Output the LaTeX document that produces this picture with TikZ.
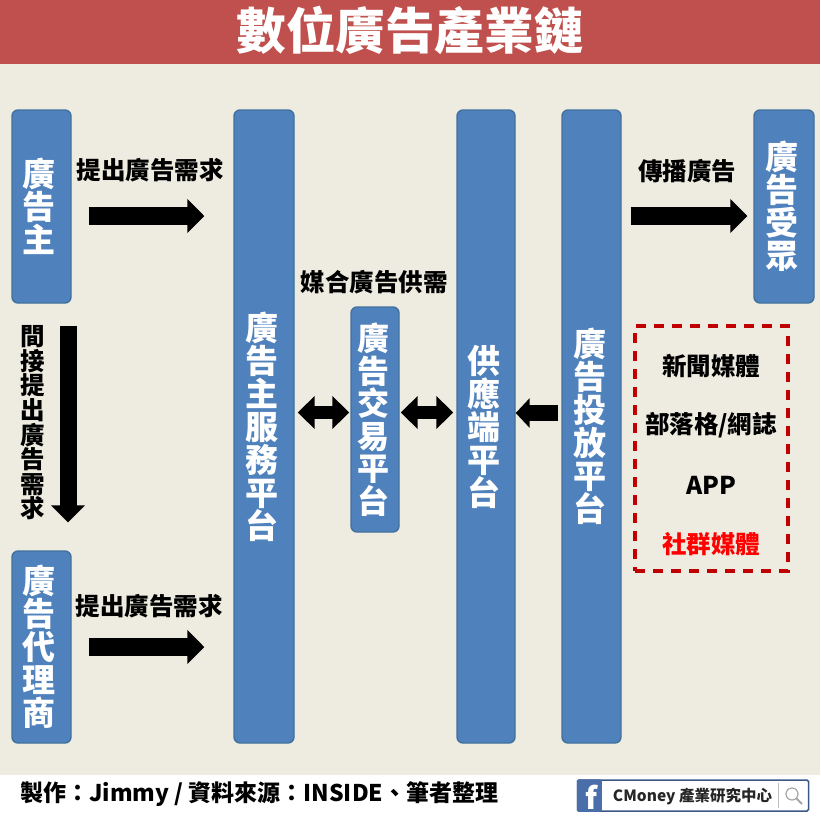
\documentclass[tikz,border=0pt]{standalone}
\usepackage{fontspec}
\setmainfont{Noto Sans CJK TC}
\usetikzlibrary{arrows.meta}

\definecolor{blockblue}{HTML}{4F81BD}
\definecolor{blockedge}{HTML}{41719C}
\definecolor{paper}{HTML}{EEECE1}
\definecolor{banner}{HTML}{C0504D}
\definecolor{dashred}{HTML}{C00000}
\definecolor{logoblue}{HTML}{4A6EA9}

% stacked characters, sitting 2pt left of the block's middle
\newcommand{\stackchars}[1]{\parbox{40pt}{\centering #1}\hspace*{4pt}}

\tikzset{
  blueblock/.style={draw=blockedge, line width=1.4pt, fill=blockblue, rounded corners=6pt,
    text=white, inner sep=0pt, minimum width=#1},
  blocktext/.style={font=\fontsize{33}{33}\selectfont\bfseries},
  caption/.style={font=\fontsize{24.5}{24.6}\selectfont\bfseries, inner sep=0pt, align=center},
  fatarrow/.style={line width=18pt, -{Triangle[length=17pt,width=33pt]}},
  twoway/.style={line width=13pt, {Triangle[length=17pt,width=32pt]}-{Triangle[length=17pt,width=32pt]}},
}

\begin{document}
\begin{tikzpicture}[x=1pt, y=-1pt, line join=miter]

% --- Background ---
\fill[white] (0,0) rectangle (820,820);
\fill[paper] (0,64) rectangle (820,775);
\fill[banner] (0,0) rectangle (820,64);
\useasboundingbox (0,0) rectangle (820,820);

% --- Title ---
\node[text=white, font=\fontsize{49.6}{50}\selectfont\bfseries, inner sep=0pt] (title) at (410,30) {數位廣告產業鏈};

% --- Blocks ---
\node[blueblock=59pt, blocktext, minimum height=193pt] (advertiser) at (41.5,206.5) {\stackchars{廣\\告\\主}};
\node[blueblock=59pt, blocktext, minimum height=192pt] (agency) at (41.5,647) {\stackchars{廣\\告\\代\\理\\商}};
\node[blueblock=60pt, blocktext, minimum height=633pt] (dsp) at (264,426.5) {\stackchars{廣\\告\\主\\服\\務\\平\\台}};
\node[blueblock=48pt, font=\fontsize{32}{32.5}\selectfont\bfseries, minimum height=225pt] (exchange) at (375,419.5) {\stackchars{廣\\告\\交\\易\\平\\台}};
\node[blueblock=58pt, blocktext, minimum height=633pt] (ssp) at (486,426.5) {\stackchars{供\\應\\端\\平\\台}};
\node[blueblock=59pt, blocktext, minimum height=633pt] (delivery) at (591.5,426.5) {\stackchars{廣\\告\\投\\放\\平\\台}};
\node[blueblock=60pt, blocktext, minimum height=193pt] (audience) at (784,206.5) {\stackchars{廣\\告\\受\\眾}};

% --- Captions ---
\node[caption] (needA) at (150,170) {提出廣告需求};
\node[caption] (needB) at (149,606) {提出廣告需求};
\node[caption] (spread) at (687,171) {傳播廣告};
\node[caption] (match) at (374,282) {媒合廣告供需};
\node[caption] (indirect) at (33,423) {間\\接\\提\\出\\廣\\告\\需\\求};

% --- Media list ---
\node[draw=dashred, line width=4pt, dash pattern=on 10pt off 8pt, minimum width=153pt, minimum height=245pt, inner sep=0pt] (media) at (711.5,448.5) {};
\node[caption] (news) at (711,366) {新聞媒體};
\node[caption] (blog) at (711,425) {部落格/網誌};
\node[caption] (app) at (711,485) {APP};
\node[caption, text=red] (social) at (711,544) {社群媒體};

% --- Arrows ---
\draw[fatarrow, shorten <=17pt, shorten >=29pt] ([yshift=-9.5pt]advertiser.east) -- ([yshift=-9.5pt]advertiser.east -| dsp.west);
\draw[fatarrow, shorten <=17pt, shorten >=29pt] (agency.east) -- (agency.east -| dsp.west);
\draw[fatarrow, shorten <=9pt, shorten >=6pt] ([yshift=-9.5pt]delivery.east |- advertiser.east) -- ([yshift=-9.5pt]audience.west);
\draw[fatarrow, line width=17pt, shorten <=22pt, shorten >=28pt] ([xshift=26.5pt]advertiser.south) -- ([xshift=26.5pt]agency.north);
\draw[twoway, shorten <=3pt, shorten >=1pt] (exchange.west -| dsp.east) ++(0,-7) -- ([yshift=7pt]exchange.west);
\draw[twoway, shorten <=1pt, shorten >=3pt] ([yshift=7pt]exchange.east) -- ([yshift=7pt]exchange.east -| ssp.west);
\draw[line width=16pt, -{Triangle[length=14pt,width=29pt]}, shorten <=-1pt] (557,413) coordinate (feed) -- (feed -| ssp.east);

% --- Footer ---
\node[font=\fontsize{23}{26}\selectfont\bfseries, inner sep=0pt, anchor=west] (credit) at (20,794) {製作：Jimmy / 資料來源：INSIDE、筆者整理};

% --- Logo ---
\node[draw=logoblue!80!black, line width=1.5pt, fill=white, rounded corners=1.5pt, minimum width=231pt, minimum height=31pt, inner sep=0pt] (logo) at (693,795.5) {};
\fill[logoblue, rounded corners=1.5pt] (logo.north west) rectangle ([xshift=25pt]logo.south west);
\node[text=white, font=\fontsize{30}{30}\selectfont\bfseries, inner sep=0pt] (fb) at (591,797) {f};
\node[font=\fontsize{15.5}{16}\selectfont\bfseries, text=black!85, inner sep=0pt] (brand) at (692.5,796) {CMoney 產業研究中心};
\draw[black!25] (778,783) -- (778,808);
\draw[black!35, line width=1.2pt] (792,794) circle (6pt);
\draw[black!35, line width=1.8pt] (796.5,798.5) -- (802,804);

\end{tikzpicture}
\end{document}
